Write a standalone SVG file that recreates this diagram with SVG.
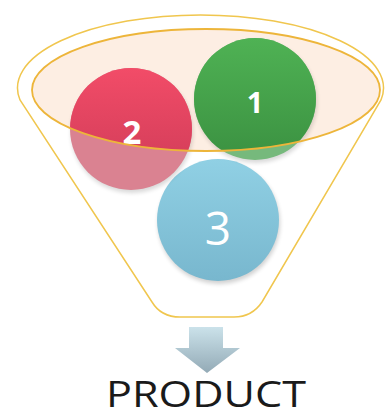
<svg xmlns="http://www.w3.org/2000/svg" width="385" height="418" viewBox="0 0 385 418">
  <style>
    .outline { fill: #ffffff; stroke: #F0C64E; stroke-width: 1.5; }
    .rim { fill: none; stroke: #EDB53A; stroke-width: 1.8; }
    .num { fill: #ffffff; font-family: "Open Sans", "DejaVu Sans", sans-serif; text-anchor: middle; }
    .label { fill: #1a1a1a; font-family: "Open Sans", "DejaVu Sans", sans-serif; font-size: 37px; }
  </style>
  <defs>
    <linearGradient id="gRed" x1="0" y1="0" x2="0" y2="1">
      <stop offset="0" stop-color="#F24C68"/>
      <stop offset="1" stop-color="#CC3A56"/>
    </linearGradient>
    <linearGradient id="gGreen" x1="0" y1="0" x2="0" y2="1">
      <stop offset="0" stop-color="#4FB254"/>
      <stop offset="1" stop-color="#3B9141"/>
    </linearGradient>
    <linearGradient id="gBlue" x1="0" y1="0" x2="0" y2="1">
      <stop offset="0" stop-color="#90D0E4"/>
      <stop offset="1" stop-color="#78B7CE"/>
    </linearGradient>
    <linearGradient id="gArrow" x1="0" y1="0" x2="0" y2="1">
      <stop offset="0" stop-color="#CBE2EA"/>
      <stop offset="1" stop-color="#93AAB6"/>
    </linearGradient>
    <clipPath id="rimClip">
      <ellipse cx="206" cy="90" rx="174" ry="61"/>
    </clipPath>
    <filter id="shadow" x="-20%" y="-20%" width="140%" height="140%">
      <feGaussianBlur stdDeviation="2"/>
    </filter>
  </defs>

  <g id="funnel">
    <path class="outline" d="M 20,100 A 183 73 0 1 1 381,100 L 262,302 Q 252,317 234,317 L 180,317 Q 161,317 152,302 Z"/>
    <ellipse cx="206" cy="90" rx="174" ry="61" fill="#FDEEE3"/>
  </g>

  <g id="circle3">
    <circle cx="219" cy="223" r="61" fill="#000" opacity="0.18" filter="url(#shadow)"/>
    <circle cx="218" cy="220" r="61" fill="url(#gBlue)"/>
    <text class="num" x="218" y="245" font-size="46">3</text>
  </g>

  <g id="circle2">
    <circle cx="132" cy="132" r="61" fill="#000" opacity="0.15" filter="url(#shadow)"/>
    <circle cx="131" cy="129" r="61" fill="#DA8291"/>
    <circle cx="131" cy="129" r="61" fill="url(#gRed)" clip-path="url(#rimClip)"/>
    <text class="num" x="132" y="144" font-size="33" font-weight="bold">2</text>
  </g>

  <g id="circle1">
    <circle cx="256" cy="102" r="61" fill="#000" opacity="0.15" filter="url(#shadow)"/>
    <circle cx="255" cy="99" r="61" fill="#76B97C"/>
    <circle cx="255" cy="99" r="61" fill="url(#gGreen)" clip-path="url(#rimClip)"/>
    <text class="num" x="255" y="113" font-size="29" font-weight="bold">1</text>
  </g>

  <g id="rim">
    <ellipse class="rim" cx="206" cy="90" rx="174" ry="61"/>
  </g>

  <g id="connectors">
    <path d="M 189,327 L 223,327 L 223,348 L 240,348 L 207,373 L 175,348 L 189,348 Z" fill="url(#gArrow)"/>
  </g>

  <g id="product">
    <text class="label" x="106" y="407" textLength="200" lengthAdjust="spacingAndGlyphs">PRODUCT</text>
  </g>
</svg>
